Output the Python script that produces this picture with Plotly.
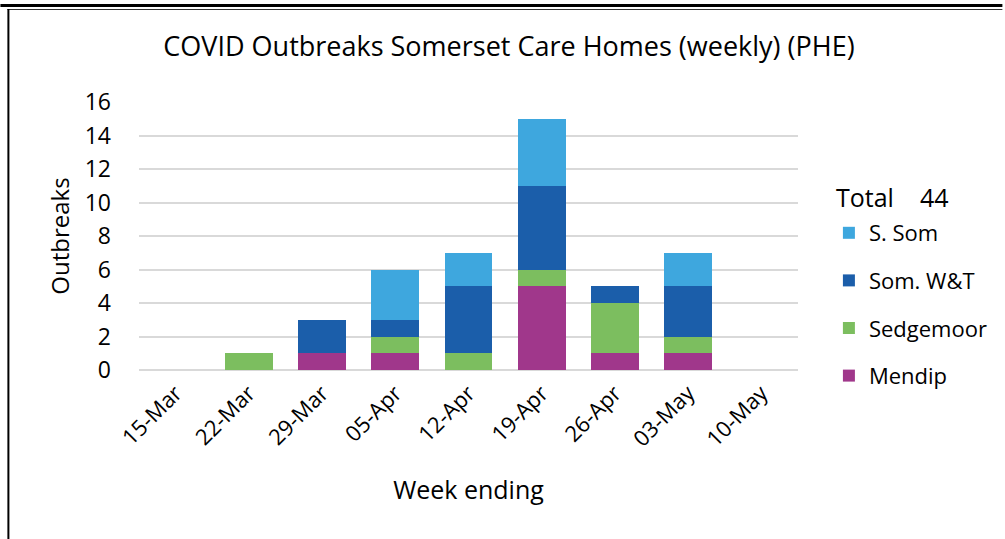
import plotly.graph_objects as go

weeks = ["15-Mar", "22-Mar", "29-Mar", "05-Apr", "12-Apr", "19-Apr", "26-Apr", "03-May", "10-May"]
mendip = [0, 0, 1, 1, 0, 5, 1, 1, 0]
sedgemoor = [0, 1, 0, 1, 1, 1, 3, 1, 0]
som_wt = [0, 0, 2, 1, 4, 5, 1, 3, 0]
s_som = [0, 0, 0, 3, 2, 4, 0, 2, 0]

series = [
    ("Mendip", mendip, "#A0378B", 4),
    ("Sedgemoor", sedgemoor, "#7CBE5F", 3),
    ("Som. W&T", som_wt, "#1B5EAA", 2),
    ("S. Som", s_som, "#3EA7DE", 1),
]
total = sum(sum(s[1]) for s in series)

FONT = "Open Sans"
W, H = 1005, 539
ML, MR, MT, MB = 139, 205, 102, 169
PW, PH = W - ML - MR, H - MT - MB

def px(x):
    return (x - ML) / PW

def py(y):
    return (H - MB - y) / PH

fig = go.Figure()
for name, vals, col, rank in series:
    fig.add_trace(go.Bar(
        x=weeks, y=vals, name=name, legendgroup=name, legendrank=rank,
        marker=dict(color=col, line=dict(width=0)),
    ))

fig.update_layout(
    width=W, height=H,
    margin=dict(l=ML, r=MR, t=MT, b=MB),
    barmode="stack", bargap=0.35,
    plot_bgcolor="white", paper_bgcolor="white",
    font=dict(family=FONT, color="#000000"),
    title=dict(text="COVID Outbreaks Somerset Care Homes (weekly) (PHE)",
               xref="container", yref="container",
               x=509 / W, xanchor="center", y=1 - 47 / H, yanchor="middle",
               font=dict(size=27, family=FONT, color="#000000")),
    xaxis=dict(tickangle=-45, tickfont=dict(size=22), showgrid=False,
               showline=False, ticks="", ticklabelstandoff=5,
               title=dict(text="Week ending", font=dict(size=25), standoff=30)),
    yaxis=dict(range=[0, 16], dtick=2, tickfont=dict(size=23),
               showgrid=True, gridcolor="#D9D9D9", gridwidth=1.5,
               zeroline=True, zerolinecolor="#D9D9D9", zerolinewidth=1.5,
               showline=False, ticks="", ticklabelstandoff=27,
               title=dict(text="Outbreaks", font=dict(size=24), standoff=8)),
    legend=dict(x=px(831), xanchor="left", y=py(212), yanchor="top",
                traceorder="grouped", tracegroupgap=16,
                font=dict(size=22), bgcolor="rgba(0,0,0,0)"),
    annotations=[dict(text="Total&nbsp;&nbsp;&nbsp;&nbsp;" + str(total),
                      xref="paper", yref="paper", x=px(836), y=py(197),
                      xanchor="left", yanchor="middle", showarrow=False,
                      font=dict(size=25, family=FONT, color="#000000"))],
    shapes=[
        dict(type="line", xref="paper", yref="paper", x0=px(0), x1=px(W),
             y0=py(5.5), y1=py(5.5), line=dict(color="black", width=3)),
        dict(type="line", xref="paper", yref="paper", x0=px(7), x1=px(W),
             y0=py(9.5), y1=py(9.5), line=dict(color="#333333", width=1)),
        dict(type="line", xref="paper", yref="paper", x0=px(8), x1=px(8),
             y0=py(9), y1=py(H), line=dict(color="black", width=2)),
    ],
)

fig.write_html("out.html", config={"displayModeBar": False},
               post_script="document.body.style.margin='0';")
